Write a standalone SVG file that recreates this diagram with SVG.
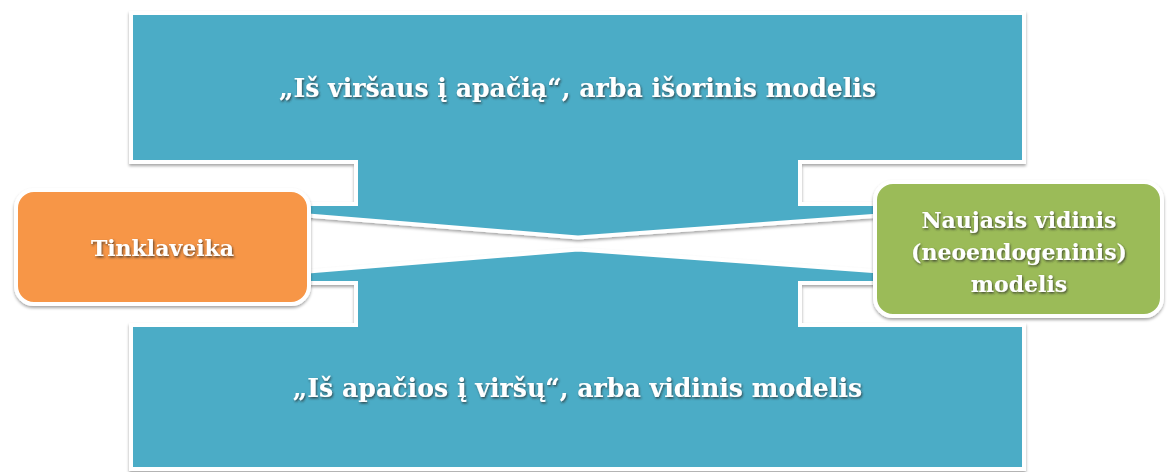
<svg xmlns="http://www.w3.org/2000/svg" width="1168" height="472" viewBox="0 0 1168 472">
<style>
.band{fill:#4BACC6;stroke:#FFFFFF;stroke-width:4;stroke-linejoin:miter;filter:url(#sh)}
.box{stroke:#FFFFFF;stroke-width:4;filter:url(#sh)}
.t{font-family:"DejaVu Serif","Liberation Serif",serif;font-weight:bold;fill:#FFFFFF;text-anchor:middle;filter:url(#tsh)}
.big{font-size:25.2px}
.small{font-size:22px}
</style>
<defs>
<filter id="sh" x="-5%" y="-10%" width="110%" height="125%">
<feDropShadow dx="0" dy="2" stdDeviation="1.5" flood-color="#000000" flood-opacity="0.35"/>
</filter>
<filter id="tsh" x="-5%" y="-20%" width="110%" height="150%">
<feDropShadow dx="1" dy="1.5" stdDeviation="0.8" flood-color="#2a2a2a" flood-opacity="0.75"/>
</filter>
</defs>
<rect width="1168" height="472" fill="#FFFFFF"/>
<g id="top-band">
<path class="band" d="M131,13 H1024 V162 H800 V204 H890 V214.8 L578,237.5 L290,214.1 V204 H356 V162 H131 Z"/>
<text class="t big" x="577.5" y="97">„Iš viršaus į apačią“, arba išorinis modelis</text>
</g>
<g id="bottom-band">
<path class="band" d="M131,469 H1024 V325 H800 V283 H890 V272.2 L578,249.5 L290,272.9 V283 H356 V325 H131 Z"/>
<text class="t big" x="577.5" y="397">„Iš apačios į viršų“, arba vidinis modelis</text>
</g>
<g id="connectors"></g>
<g id="tinklaveika">
<rect class="box" x="16" y="190" width="293" height="114" rx="18" fill="#F79646"/>
<text class="t small" x="162.5" y="255.5">Tinklaveika</text>
</g>
<g id="naujasis-vidinis">
<rect class="box" x="875" y="182" width="287" height="134" rx="18" fill="#9BBB59"/>
<text class="t small" x="1019" y="228">Naujasis vidinis</text>
<text class="t small" x="1019" y="260">(neoendogeninis)</text>
<text class="t small" x="1019" y="292">modelis</text>
</g>
</svg>
